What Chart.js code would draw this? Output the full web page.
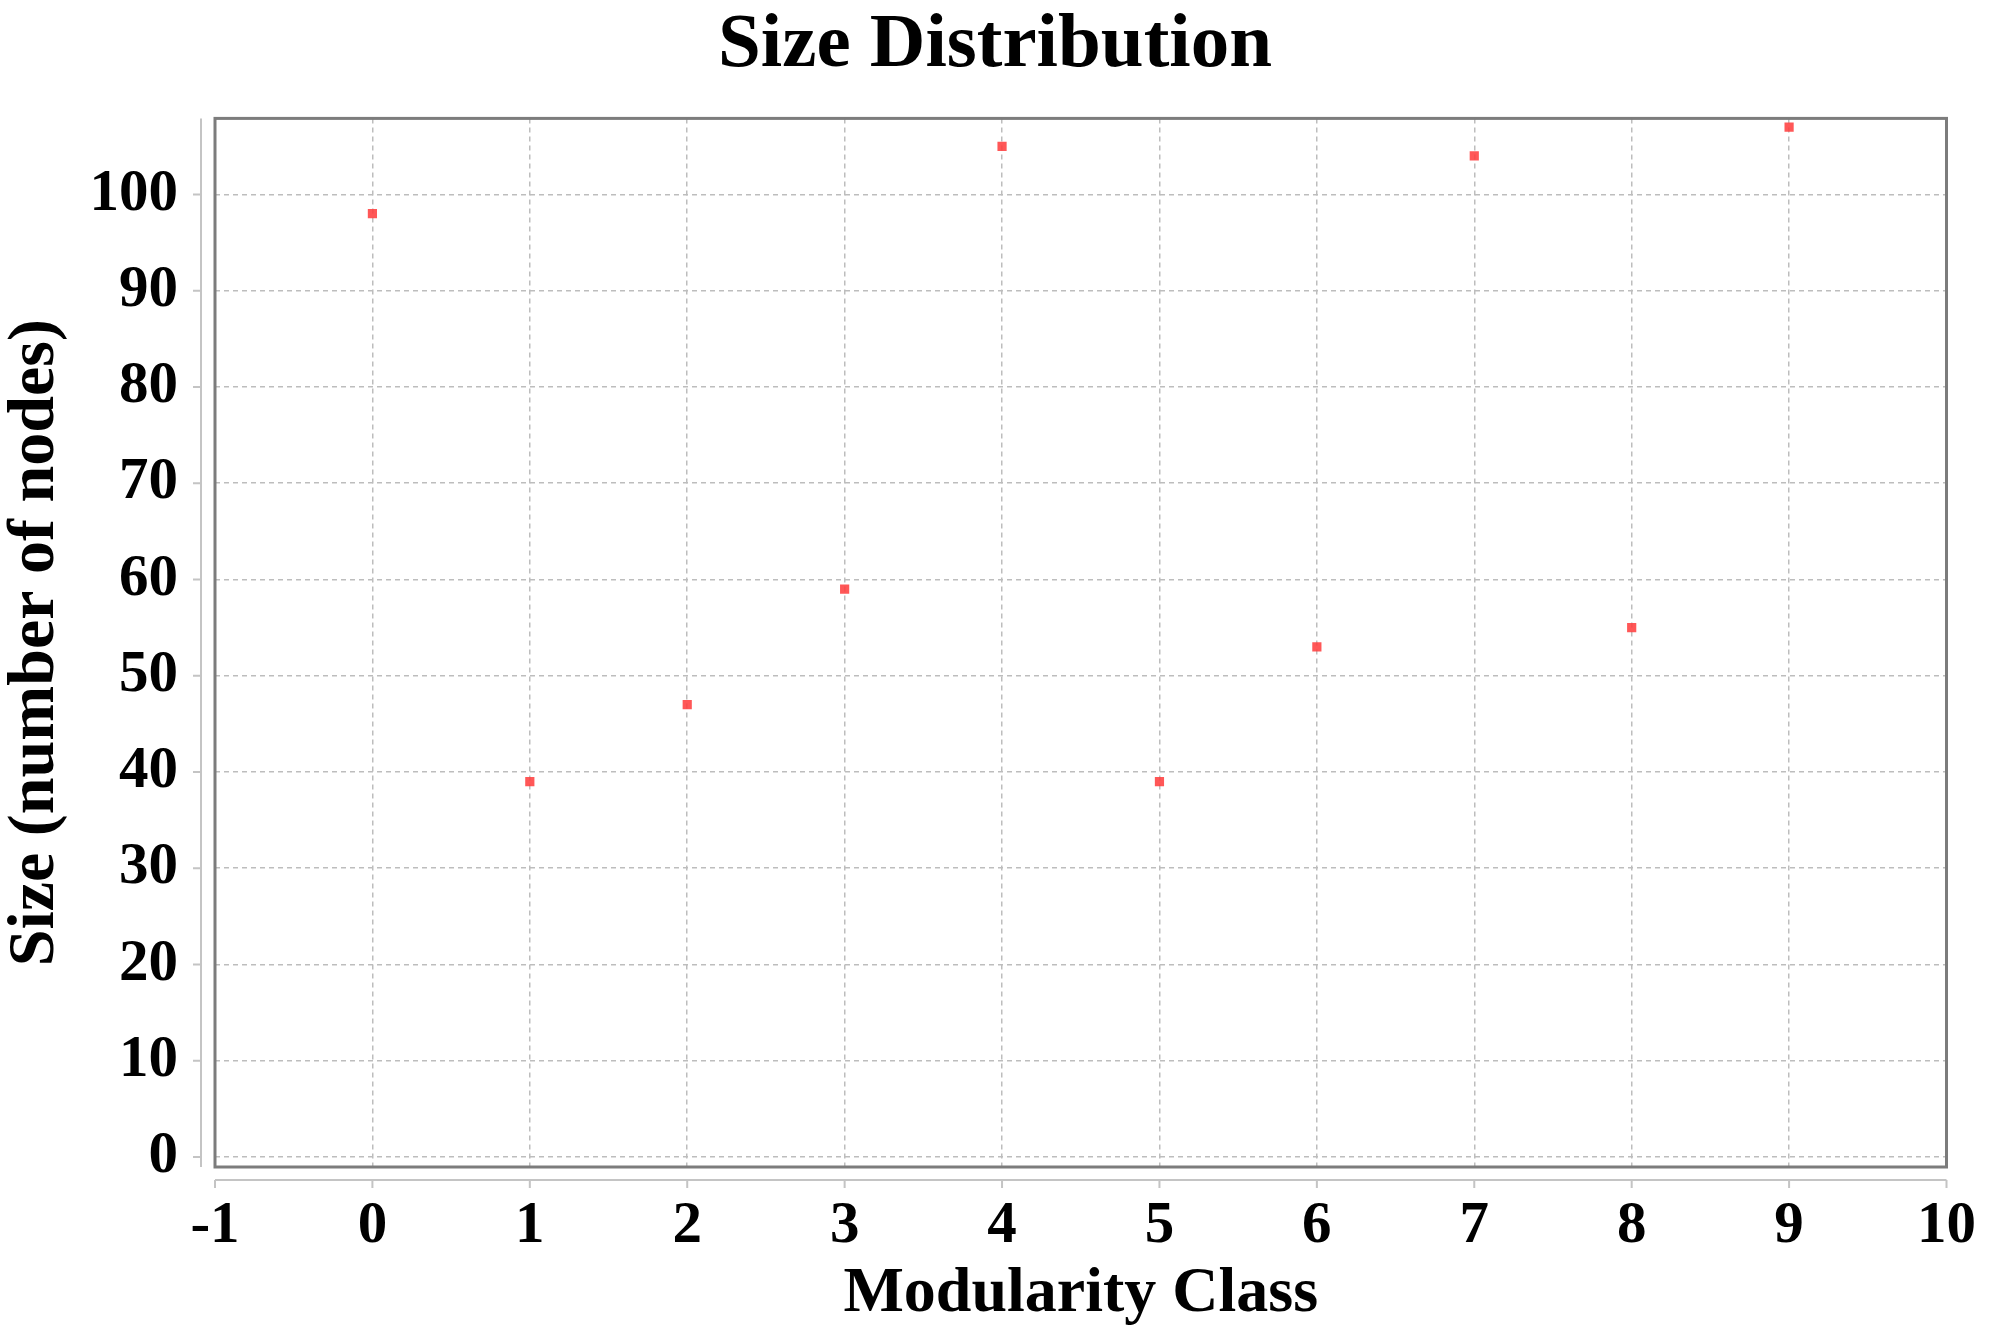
<!DOCTYPE html>
<html lang="en">
<head>
  <meta charset="UTF-8" />
  <title>Size Distribution</title>
  <script src="https://cdn.jsdelivr.net/npm/chart.js"></script>
  <style>
    * { box-sizing: border-box; margin: 0; padding: 0; }
    html, body { width: 2000px; height: 1332px; background: #ffffff; overflow: hidden; }
    #wrap { position: relative; width: 2000px; height: 1332px; }
  </style>
</head>
<body>
  <div id="wrap"><canvas id="sizeChart"></canvas></div>

  <script>
    // Values
    const modularityClasses = [0, 1, 2, 3, 4, 5, 6, 7, 8, 9];
    const classSizes = [98, 39, 47, 59, 105, 39, 53, 104, 55, 107];
    const sizeTicks = [0, 10, 20, 30, 40, 50, 60, 70, 80, 90, 100];

    const serif = '"Liberation Serif", "Times New Roman", serif';

    // JFreeChart-like frame: dark plot outline plus detached light axis lines
    const frame = {
      id: 'frame',
      afterDraw(chart) {
        const { ctx, chartArea: a, scales } = chart;
        ctx.save();
        ctx.strokeStyle = '#c4c4c4';
        ctx.lineWidth = 2;
        // left axis line + ticks
        const ax = a.left - 14;
        ctx.beginPath();
        ctx.moveTo(ax, a.top);
        ctx.lineTo(ax, a.bottom);
        scales.y.ticks.forEach(t => {
          const py = scales.y.getPixelForValue(t.value);
          ctx.moveTo(ax - 8, py);
          ctx.lineTo(ax, py);
        });
        // bottom axis line + ticks
        const ay = a.bottom + 13;
        ctx.moveTo(a.left, ay);
        ctx.lineTo(a.right, ay);
        scales.x.ticks.forEach(t => {
          const px = scales.x.getPixelForValue(t.value);
          ctx.moveTo(px, ay);
          ctx.lineTo(px, ay + 8);
        });
        ctx.stroke();
        // plot outline
        ctx.strokeStyle = '#7c7c7c';
        ctx.lineWidth = 3;
        ctx.strokeRect(a.left, a.top, a.right - a.left, a.bottom - a.top);
        ctx.restore();
      }
    };

    new Chart(document.getElementById('sizeChart'), {
      type: 'scatter',
      data: {
        datasets: [{
          label: 'Size',
          data: modularityClasses.map((c, i) => ({ x: c, y: classSizes[i] })),
          pointStyle: 'rect',
          pointRadius: 6.5,
          pointHoverRadius: 6.5,
          backgroundColor: 'rgba(255, 64, 64, 0.88)',
          borderColor: 'rgba(255, 64, 64, 0.88)',
          borderWidth: 0
        }]
      },
      options: {
        responsive: true,
        maintainAspectRatio: false,
        animation: false,
        devicePixelRatio: 1,
        layout: { padding: { left: 28, right: 38, top: 0, bottom: 0 } },
        plugins: {
          legend: { display: false },
          tooltip: { enabled: false },
          title: {
            display: true,
            text: 'Size Distribution',
            color: '#000',
            font: { family: serif, size: 77, weight: 'bold', lineHeight: 1.2 },
            padding: { top: 0, bottom: 26 }
          }
        },
        scales: {
          x: {
            type: 'linear',
            min: -1,
            max: 10,
            ticks: {
              stepSize: 1,
              color: '#000',
              padding: 24,
              maxRotation: 0,
              font: { family: serif, size: 59, weight: 'bold' }
            },
            grid: {
              color: '#bdbdbd',
              lineWidth: 1.5,
              drawTicks: false
            },
            border: { display: false, dash: [5, 4] },
            title: {
              display: true,
              text: 'Modularity Class',
              color: '#000',
              font: { family: serif, size: 64, weight: 'bold', lineHeight: 1.1 },
              padding: { top: 0, bottom: 2 }
            },
            afterFit(scale) { scale.height = 165; }
          },
          y: {
            type: 'linear',
            min: -1.05,
            max: 107.9,
            afterBuildTicks(scale) {
              scale.ticks = sizeTicks.map(v => ({ value: v }));
            },
            ticks: {
              color: '#000',
              padding: 37,
              font: { family: serif, size: 59, weight: 'bold' }
            },
            grid: {
              color: '#bdbdbd',
              lineWidth: 1.5,
              drawTicks: false
            },
            border: { display: false, dash: [5, 4] },
            title: {
              display: true,
              text: 'Size (number of nodes)',
              color: '#000',
              font: { family: serif, size: 66, weight: 'bold', lineHeight: 1.1 },
              padding: { top: -28, bottom: 0 }
            },
            afterFit(scale) { scale.width = 187; }
          }
        }
      },
      plugins: [frame]
    });
  </script>
</body>
</html>
